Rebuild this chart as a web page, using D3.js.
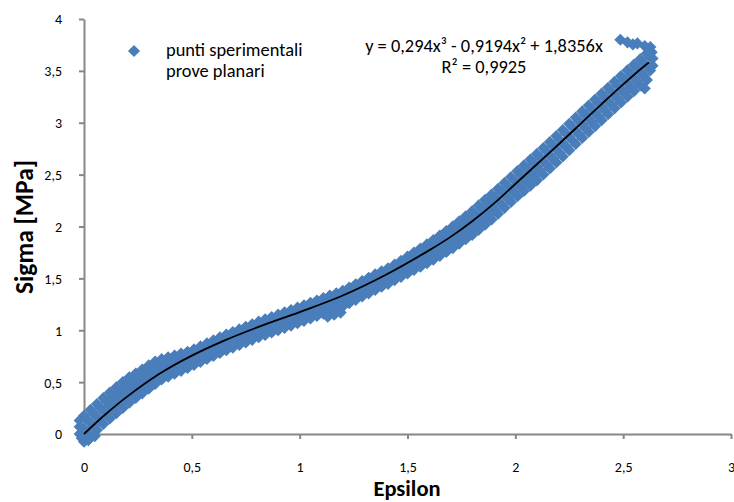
<!DOCTYPE html>
<html><head><meta charset="utf-8">
<script src="https://cdn.jsdelivr.net/npm/d3@7"></script>
<style>
html,body{margin:0;padding:0;background:#fff;}
svg{display:block;font-family:Carlito,Calibri,Lato,sans-serif;}
</style></head>
<body>
<svg id="chart" width="734" height="502"></svg>
<script>
// ---------------- DATA ----------------
const xTicks = [0, 0.5, 1, 1.5, 2, 2.5, 3];
const yTicks = [0, 0.5, 1, 1.5, 2, 2.5, 3, 3.5, 4];
const xTitle = "Epsilon";
const yTitle = "Sigma [MPa]";
const legendLabel = ["punti sperimentali", "prove planari"];
const equationLine1 = "y = 0,294x³ - 0,9194x² + 1,8356x";
const equationLine2 = "R² = 0,9925";

// experimental points: tracks sampled at epsA (tracks A, C, E) and epsB (tracks B, D)
const epsA = [0,0.03,0.06,0.09,0.12,0.15,0.18,0.21,0.24,0.27,0.30,0.33,0.36,0.39,0.42,0.45,0.48,0.51,0.54,0.57,0.60,0.63,0.66,0.69,0.72,0.75,0.78,0.81,0.84,0.87,0.90,0.93,0.96,0.99,1.02,1.05,1.08,1.11,1.14,1.17,1.20,1.23,1.26,1.29,1.32,1.35,1.38,1.41,1.44,1.47,1.50,1.53,1.56,1.59,1.62,1.65,1.68,1.71,1.74,1.77,1.80,1.83,1.86,1.89,1.92,1.95,1.98,2.01,2.04,2.07,2.10,2.13,2.16,2.19,2.22,2.25,2.28,2.31,2.34,2.37,2.40,2.43,2.46,2.49,2.52,2.55,2.58,2.61];
const epsB = [0.015,0.045,0.075,0.105,0.135,0.165,0.195,0.225,0.255,0.285,0.315,0.345,0.375,0.405,0.435,0.465,0.495,0.525,0.555,0.585,0.615,0.645,0.675,0.705,0.735,0.765,0.795,0.825,0.855,0.885,0.915,0.945,0.975,1.005,1.035,1.065,1.095,1.125,1.155,1.185,1.215,1.245,1.275,1.305,1.335,1.365,1.395,1.425,1.455,1.485,1.515,1.545,1.575,1.605,1.635,1.665,1.695,1.725,1.755,1.785,1.815,1.845,1.875,1.905,1.935,1.965,1.995,2.025,2.055,2.085,2.115,2.145,2.175,2.205,2.235,2.265,2.295,2.325,2.355,2.385,2.415,2.445,2.475,2.505,2.535,2.565,2.595,2.625];
const sigmaA = [0.175,0.232,0.289,0.346,0.399,0.450,0.501,0.547,0.583,0.622,0.661,0.699,0.721,0.739,0.757,0.775,0.793,0.815,0.844,0.873,0.902,0.931,0.958,0.983,1.008,1.033,1.058,1.083,1.105,1.128,1.150,1.173,1.195,1.218,1.241,1.264,1.287,1.310,1.334,1.357,1.380,1.412,1.443,1.475,1.506,1.538,1.569,1.597,1.632,1.670,1.709,1.749,1.788,1.827,1.869,1.913,1.956,2.001,2.050,2.099,2.148,2.203,2.257,2.308,2.363,2.420,2.477,2.534,2.589,2.645,2.700,2.757,2.814,2.872,2.930,2.990,3.050,3.109,3.166,3.223,3.280,3.337,3.394,3.451,3.506,3.560,3.614,3.668];
const sigmaB = [0.141,0.198,0.255,0.311,0.362,0.413,0.464,0.508,0.546,0.587,0.627,0.667,0.689,0.711,0.731,0.752,0.771,0.792,0.821,0.850,0.879,0.908,0.933,0.958,0.983,1.008,1.033,1.056,1.079,1.101,1.124,1.146,1.169,1.191,1.215,1.238,1.261,1.284,1.308,1.331,1.358,1.390,1.421,1.453,1.484,1.516,1.547,1.577,1.612,1.649,1.687,1.725,1.762,1.801,1.842,1.884,1.926,1.971,2.019,2.066,2.116,2.170,2.223,2.276,2.332,2.389,2.446,2.502,2.557,2.611,2.665,2.722,2.779,2.836,2.896,2.956,3.016,3.074,3.131,3.188,3.245,3.302,3.359,3.415,3.469,3.523,3.577,3.631];
const sigmaC = [0.050,0.107,0.164,0.221,0.274,0.325,0.376,0.424,0.465,0.507,0.549,0.591,0.623,0.646,0.669,0.692,0.715,0.740,0.769,0.798,0.827,0.856,0.883,0.908,0.933,0.958,0.983,1.008,1.030,1.053,1.075,1.098,1.120,1.143,1.166,1.189,1.212,1.235,1.259,1.282,1.305,1.337,1.368,1.400,1.431,1.463,1.494,1.522,1.557,1.593,1.629,1.665,1.701,1.737,1.775,1.815,1.855,1.897,1.943,1.988,2.034,2.086,2.137,2.188,2.243,2.300,2.357,2.413,2.466,2.519,2.573,2.630,2.687,2.745,2.803,2.863,2.923,2.982,3.039,3.096,3.153,3.210,3.267,3.324,3.379,3.433,3.487,3.541];
const sigmaD = [0.016,0.073,0.130,0.186,0.237,0.288,0.339,0.384,0.428,0.471,0.515,0.559,0.591,0.617,0.643,0.668,0.693,0.717,0.746,0.775,0.804,0.833,0.858,0.883,0.908,0.933,0.958,0.981,1.004,1.026,1.049,1.071,1.094,1.116,1.140,1.163,1.186,1.209,1.233,1.256,1.283,1.315,1.346,1.378,1.409,1.441,1.472,1.502,1.537,1.571,1.606,1.641,1.674,1.710,1.748,1.786,1.825,1.867,1.911,1.955,2.002,2.052,2.103,2.156,2.212,2.269,2.326,2.381,2.433,2.485,2.538,2.595,2.652,2.709,2.769,2.829,2.889,2.947,3.004,3.061,3.118,3.175,3.232,3.288,3.342,3.396,3.450,3.504];
const sigmaE = [-0.075,-0.018,0.039,0.096,0.149,0.200,0.251,0.301,0.347,0.392,0.437,0.483,0.525,0.553,0.581,0.609,0.637,0.665,0.694,0.723,0.752,0.781,0.808,0.833,0.858,0.883,0.908,0.933,0.955,0.978,1.000,1.023,1.045,1.068,1.091,1.114,1.137,1.160,1.184,1.207,1.230,1.262,1.293,1.325,1.356,1.388,1.419,1.447,1.482,1.515,1.548,1.581,1.613,1.646,1.681,1.717,1.754,1.792,1.835,1.877,1.919,1.968,2.017,2.068,2.123,2.180,2.237,2.292,2.343,2.394,2.445,2.502,2.559,2.617,2.675,2.735,2.795,2.854,2.911,2.968,3.025,3.082,3.139,3.196,3.251,3.305,3.359,3.413];
// isolated points (start blob, dip, final hook)
const epsX   = [-0.02,-0.02,-0.02,-0.01,0.02,0.05,1.13,1.16,1.19,2.487,2.52,2.545,2.566,2.60,2.626,2.632,2.636,2.636,2.60];
const sigmaX = [0.0,0.07,0.13,-0.04,-0.06,-0.02,1.13,1.15,1.17,3.80,3.775,3.755,3.765,3.74,3.73,3.68,3.62,3.55,3.33];

// polynomial trend line as drawn
const trendEps   = [0,0.1,0.2,0.35,0.5,0.65,0.8,1.0,1.2,1.4,1.6,1.7,1.8,1.9,2.0,2.1,2.2,2.3,2.4,2.5,2.6,2.62];
const trendSigma = [0,0.19,0.36,0.58,0.755,0.9,1.025,1.175,1.335,1.535,1.77,1.90,2.05,2.22,2.41,2.60,2.79,2.985,3.18,3.37,3.55,3.58];

// ---------------- CHART ----------------
const svg = d3.select("#chart");
const x = d3.scaleLinear().domain([0, 3]).range([84, 731]);
const y = d3.scaleLinear().domain([0, 4]).range([434, 19]);
const fmt = d => String(d).replace(".", ",");
const axisColor = "#878787";
const markerColor = "#4A7EBB";

// axes
const gx = svg.append("g").attr("transform", "translate(0,434)")
  .call(d3.axisBottom(x).tickValues(xTicks).tickSize(5).tickSizeOuter(0).tickFormat(fmt));
const gy = svg.append("g").attr("transform", "translate(84,0)")
  .call(d3.axisLeft(y).tickValues(yTicks).tickSize(5).tickSizeOuter(0).tickFormat(fmt));
[gx, gy].forEach(g => {
  g.select(".domain").attr("stroke", axisColor).attr("stroke-width", 2);
  g.selectAll(".tick line").attr("stroke", axisColor).attr("stroke-width", 2);
  g.selectAll(".tick text").attr("fill", "#000").attr("font-size", 14)
    .attr("font-family", "Carlito,Calibri,Lato,sans-serif");
});
gx.selectAll(".tick text").attr("y", 28).attr("dy", "0.71em");
gy.selectAll(".tick text").attr("x", -22).attr("dy", "0.35em");

// points
const pts = [];
const addTrack = (ex, sg) => ex.forEach((e, i) => pts.push([e, sg[i]]));
addTrack(epsA, sigmaA); addTrack(epsB, sigmaB); addTrack(epsA, sigmaC);
addTrack(epsB, sigmaD); addTrack(epsA, sigmaE); addTrack(epsX, sigmaX);
const diamond = d3.symbol().type(d3.symbolSquare).size(74)();
svg.append("g").selectAll("path").data(pts).join("path")
  .attr("d", diamond)
  .attr("transform", d => `translate(${x(d[0])},${y(d[1])}) rotate(45)`)
  .attr("fill", markerColor);

// trend line
svg.append("path")
  .datum(trendEps.map((e, i) => [e, trendSigma[i]]))
  .attr("fill", "none").attr("stroke", "#000").attr("stroke-width", 1.8)
  .attr("d", d3.line().x(d => x(d[0])).y(d => y(d[1])).curve(d3.curveCatmullRom));

// equation
const eq = svg.append("g").attr("font-size", 18.4).attr("text-anchor", "middle").attr("fill", "#000");
eq.append("text").attr("x", 484).attr("y", 52).text(equationLine1);
eq.append("text").attr("x", 484).attr("y", 73).text(equationLine2);

// legend
svg.append("path").attr("d", diamond)
  .attr("transform", "translate(134,51) rotate(45)").attr("fill", markerColor);
const lg = svg.append("g").attr("font-size", 18.4).attr("fill", "#000");
lg.append("text").attr("x", 166).attr("y", 56).text(legendLabel[0]);
lg.append("text").attr("x", 166).attr("y", 77).text(legendLabel[1]);

// titles
svg.append("text").attr("x", 407).attr("y", 496).attr("text-anchor", "middle")
  .attr("font-size", 22.5).attr("font-weight", "bold").text(xTitle);
svg.append("text").attr("transform", "translate(33,227) rotate(-90)").attr("text-anchor", "middle")
  .attr("font-size", 25.5).attr("font-weight", "bold").text(yTitle);
</script>
</body></html>
